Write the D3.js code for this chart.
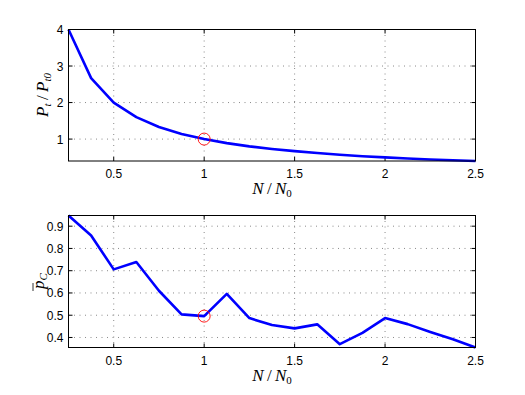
<!DOCTYPE html>
<html>
<head>
<meta charset="utf-8">
<script src="https://cdn.jsdelivr.net/npm/d3@7"></script>
<style>
  body { margin: 0; background: #fff; }
  text { font-family: "Liberation Sans", Arial, sans-serif; }
  .math { font-family: "Liberation Serif", "DejaVu Serif", serif; font-style: italic; }
</style>
</head>
<body>
<div id="app"></div>
<script>
const ratio = [0.25, 0.375, 0.5, 0.625, 0.75, 0.875, 1, 1.125, 1.25, 1.375, 1.5,
  1.625, 1.75, 1.875, 2, 2.125, 2.25, 2.375, 2.5];
const power = [4, 2.67, 2.0, 1.6, 1.33, 1.14, 1.0, 0.89, 0.8, 0.73, 0.67,
  0.62, 0.57, 0.53, 0.5, 0.47, 0.44, 0.42, 0.4];
const prob = [0.948, 0.858, 0.706, 0.739, 0.61, 0.504, 0.496, 0.596, 0.487, 0.456, 0.441,
  0.459, 0.37, 0.421, 0.487, 0.46, 0.425, 0.392, 0.355];
const xTicks = [0.5, 1, 1.5, 2, 2.5];
const powerTicks = [1, 2, 3, 4];
const probTicks = [0.4, 0.5, 0.6, 0.7, 0.8, 0.9];
const marker = { x: 1, power: 1, prob: 0.496 };

const width = 525, height = 395;
const left = 68.5, right = 475.5;

const svg = d3.select("#app").append("svg")
  .attr("width", width)
  .attr("height", height);

const x = d3.scaleLinear().domain([0.25, 2.5]).range([left, right]);

function panel(top, bottom, yDomain, yTicks, values, markY, fmt) {
  const y = d3.scaleLinear().domain(yDomain).range([bottom, top]);
  const g = svg.append("g");

  // dotted grid
  g.selectAll("line.gx")
    .data(xTicks.filter(t => t < 2.5))
    .join("line")
    .attr("x1", d => x(d)).attr("x2", d => x(d))
    .attr("y1", top).attr("y2", bottom)
    .attr("stroke", "#8a8a8a").attr("stroke-dasharray", "1,4.5");
  g.selectAll("line.gy")
    .data(yTicks.filter(t => y(t) > top + 1))
    .join("line")
    .attr("x1", left).attr("x2", right)
    .attr("y1", d => y(d)).attr("y2", d => y(d))
    .attr("stroke", "#8a8a8a").attr("stroke-dasharray", "1,4.5");

  // inward ticks on all four sides
  const tl = 4;
  xTicks.forEach(t => {
    g.append("line").attr("x1", x(t)).attr("x2", x(t)).attr("y1", bottom).attr("y2", bottom - tl).attr("stroke", "#000");
    g.append("line").attr("x1", x(t)).attr("x2", x(t)).attr("y1", top).attr("y2", top + tl).attr("stroke", "#000");
  });
  yTicks.forEach(t => {
    g.append("line").attr("x1", left).attr("x2", left + tl).attr("y1", y(t)).attr("y2", y(t)).attr("stroke", "#000");
    g.append("line").attr("x1", right).attr("x2", right - tl).attr("y1", y(t)).attr("y2", y(t)).attr("stroke", "#000");
  });

  g.selectAll("text.xt")
    .data(xTicks)
    .join("text")
    .attr("x", d => x(d))
    .attr("y", bottom + 17)
    .attr("text-anchor", "middle")
    .attr("font-size", 12)
    .text(d => d);
  g.selectAll("text.yt")
    .data(yTicks)
    .join("text")
    .attr("x", left - 5)
    .attr("y", d => y(d) + 4.5)
    .attr("text-anchor", "end")
    .attr("font-size", 12)
    .text(fmt);

  const line = d3.line()
    .x((d, i) => x(ratio[i]))
    .y(d => y(d));

  g.append("path")
    .datum(values)
    .attr("d", line)
    .attr("fill", "none")
    .attr("stroke", "#0000ff")
    .attr("stroke-width", 2.6)
    .attr("stroke-linejoin", "round");

  g.append("circle")
    .attr("cx", x(marker.x))
    .attr("cy", y(markY))
    .attr("r", 6)
    .attr("fill", "none")
    .attr("stroke", "#ff0000")
    .attr("stroke-width", 0.9);

  g.append("rect")
    .attr("x", left).attr("y", top)
    .attr("width", right - left).attr("height", bottom - top)
    .attr("fill", "none")
    .attr("stroke", "#000");

  // x label N/N0
  const xl = g.append("text")
    .attr("class", "math")
    .attr("x", x(1.375))
    .attr("y", bottom + 33)
    .attr("text-anchor", "middle")
    .attr("font-size", 17);
  xl.append("tspan").text("N");
  xl.append("tspan").attr("font-style", "normal").text("\u2009/\u2009");
  xl.append("tspan").text("N");
  xl.append("tspan").attr("font-size", 11).attr("font-style", "normal").attr("dy", 3).text("0");
  return { y, g };
}

const p1 = panel(29.5, 161, [0.4, 4], powerTicks, power, marker.power, d => d);
const p2 = panel(215.5, 347.5, [0.355, 0.948], probTicks, prob, marker.prob, d3.format(".1f"));

// y label P_t / P_t0
const yl1 = svg.append("text")
  .attr("class", "math")
  .attr("transform", "translate(48,95) rotate(-90)")
  .attr("text-anchor", "middle")
  .attr("font-size", 17);
yl1.append("tspan").text("P");
yl1.append("tspan").attr("font-size", 11).attr("dy", 3).text("t");
yl1.append("tspan").attr("dy", -3).attr("font-style", "normal").text("\u2009/\u2009");
yl1.append("tspan").text("P");
yl1.append("tspan").attr("font-size", 11).attr("dy", 3).text("t0");

// y label p-bar_C
const yl2 = svg.append("g").attr("transform", "translate(44,281) rotate(-90)");
yl2.append("text")
  .attr("class", "math")
  .attr("text-anchor", "middle")
  .attr("font-size", 17)
  .call(t => {
    t.append("tspan").text("p");
    t.append("tspan").attr("font-size", 11).attr("dy", 3).text("C");
  });
yl2.append("line")
  .attr("x1", -10).attr("x2", -2)
  .attr("y1", -11).attr("y2", -11)
  .attr("stroke", "#000").attr("stroke-width", 0.8);
</script>
</body>
</html>
